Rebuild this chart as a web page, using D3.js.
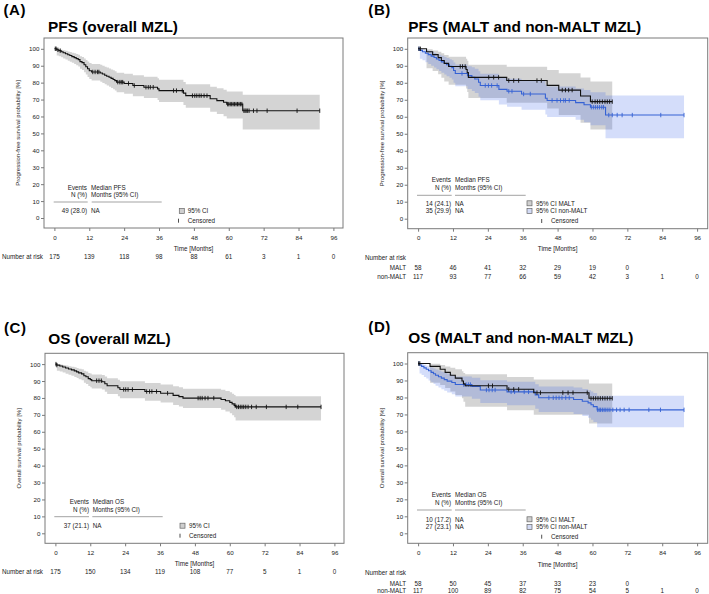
<!DOCTYPE html>
<html><head><meta charset="utf-8">
<script src="https://cdn.jsdelivr.net/npm/d3@7"></script>
<style>
body{margin:0;background:#fff}
svg text{font-family:"Liberation Sans",Arial,Helvetica,sans-serif;fill:#222}
</style>
</head><body>
<svg id="chart" width="709" height="594"></svg>
<script>
// ---------- tick labels ----------
const xTicks = [0, 12, 24, 36, 48, 60, 72, 84, 96];
const yTicks = [0, 10, 20, 30, 40, 50, 60, 70, 80, 90, 100];

// ---------- Panel A: PFS overall ----------
const pfsAllTime = [0, 0.8, 1.5, 2.3, 3.0, 3.8, 4.6, 5.3, 6.0, 6.8, 7.5, 8.2, 8.8, 9.5, 10.2, 10.8, 11.4, 12.0, 12.8, 15.8, 16.5, 17.3, 18.0, 18.8, 19.5, 20.2, 20.8, 21.4, 24.0, 27.0, 30.8, 35.5, 36.0, 44.4, 45.2, 53.6, 55.9, 58.2, 59.3, 64.8];
const pfsAllSurv = [100, 99.4, 98.9, 98.3, 97.7, 97.1, 96.5, 96.0, 95.4, 94.8, 94.2, 93.6, 92.4, 91.8, 90.6, 89.4, 88.2, 87.0, 86.3, 85.7, 85.1, 84.4, 83.8, 83.2, 82.5, 81.9, 81.2, 80.3, 79.5, 78.3, 77.3, 76.3, 75.3, 73.8, 72.3, 70.5, 69.4, 68.4, 67.3, 63.4];
const pfsAllLow = [100, 96.0, 95.6, 95.0, 94.3, 93.7, 93.0, 92.4, 91.7, 91.0, 90.3, 89.6, 88.2, 87.5, 86.1, 84.8, 83.4, 82.1, 81.3, 80.5, 79.8, 79.0, 78.3, 77.6, 76.8, 76.1, 75.4, 74.3, 73.4, 72.0, 70.9, 69.7, 68.6, 66.8, 65.1, 62.8, 61.4, 60.2, 58.8, 52.3];
const pfsAllHigh = [100, 99.9, 99.7, 99.4, 99.1, 98.8, 98.4, 98.1, 97.7, 97.3, 96.9, 96.5, 95.6, 95.2, 94.3, 93.4, 92.5, 91.6, 91.0, 90.5, 90.0, 89.4, 88.9, 88.4, 87.8, 87.3, 86.7, 85.9, 85.3, 84.3, 83.5, 82.6, 81.7, 80.4, 79.1, 77.6, 76.7, 75.8, 74.8, 72.8];
const pfsAllEnd = 91.3;
const pfsAllCens = [0.3, 0.6, 1.2, 2.0, 13.2, 14.0, 14.8, 15.3, 21.8, 22.5, 23.0, 23.5, 25.5, 27.5, 31.5, 32.3, 33.0, 34.0, 41.0, 42.0, 44.0, 47.5, 48.3, 49.0, 49.8, 50.5, 51.5, 52.5, 59.6, 60.0, 60.5, 61.0, 61.5, 62.0, 62.5, 63.0, 63.5, 64.0, 64.5, 65.2, 65.6, 66.0, 66.5, 67.0, 68.5, 69.7, 73.2, 83.5, 91.3];
const riskPfsAll = [175, 139, 118, 98, 88, 61, 3, 1, 0];

// ---------- Panel B: PFS MALT / non-MALT ----------
const pfsMaltTime = [0, 2.9, 5.0, 6.9, 8.0, 9.0, 10.5, 16.5, 16.9, 17.3, 30.5, 44.4, 48.4, 55.9, 59.3];
const pfsMaltSurv = [100, 98.3, 96.6, 94.8, 93.1, 91.4, 89.6, 87.8, 86.0, 83.2, 81.3, 78.5, 75.7, 72.2, 68.9];
const pfsMaltLow = [100, 88.5, 87.0, 85.0, 83.0, 80.8, 78.8, 76.6, 74.6, 71.0, 68.3, 64.8, 61.0, 56.5, 52.5];
const pfsMaltHigh = [100, 99.8, 99.0, 98.2, 97.4, 96.4, 95.3, 94.1, 92.9, 90.6, 89.4, 87.5, 85.6, 83.1, 80.8];
const pfsMaltEnd = 66.8;
const pfsMaltCens = [0.3, 0.8, 14.5, 15.3, 16.2, 24.3, 26.0, 27.7, 31.2, 32.9, 34.6, 40.9, 42.4, 49.6, 50.7, 51.8, 53.0, 59.9, 60.9, 61.7, 62.5, 63.4, 64.3, 65.1, 65.9, 66.8];
const pfsNonTime = [0, 0.6, 1.5, 2.5, 3.5, 4.5, 5.5, 6.3, 7.2, 8.0, 9.0, 9.8, 10.8, 11.6, 12.2, 12.8, 17.0, 18.5, 19.5, 20.8, 21.4, 27.8, 30.6, 35.6, 43.8, 44.4, 54.2, 57.1, 59.3, 64.5];
const pfsNonSurv = [100, 99.1, 98.3, 97.4, 96.6, 95.7, 94.9, 94.0, 93.1, 92.3, 91.4, 90.6, 89.7, 88.9, 87.2, 85.5, 84.2, 83.2, 82.2, 80.3, 78.4, 76.1, 75.0, 73.4, 70.9, 69.6, 68.3, 67.1, 65.6, 61.0];
const pfsNonLow = [100, 94.1, 93.2, 92.1, 91.1, 90.0, 89.0, 88.0, 86.9, 85.9, 84.9, 83.9, 82.9, 81.9, 80.0, 78.0, 76.4, 75.2, 74.0, 71.8, 69.7, 67.2, 65.9, 64.1, 61.3, 59.8, 58.2, 56.8, 55.0, 47.3];
const pfsNonHigh = [100, 99.9, 99.6, 99.2, 98.7, 98.2, 97.6, 97.0, 96.5, 95.9, 95.2, 94.6, 93.9, 93.3, 92.0, 90.8, 89.8, 89.1, 88.3, 86.8, 85.3, 83.3, 82.4, 81.0, 78.9, 77.8, 76.7, 75.7, 74.4, 72.5];
const pfsNonEnd = 91.5;
const pfsNonCens = [0.3, 15.1, 23.1, 24.2, 25.3, 27.2, 31.2, 32.3, 36.3, 38.6, 46.1, 47.8, 49.0, 50.1, 50.7, 52.0, 59.6, 60.3, 61.0, 61.7, 62.4, 63.2, 63.8, 65.6, 66.8, 68.5, 70.2, 73.7, 83.5, 91.5];
const riskPfsMalt = [58, 46, 41, 32, 29, 19, 0];
const riskPfsNon = [117, 93, 77, 66, 59, 42, 3, 1, 0];

// ---------- Panel C: OS overall ----------
const osAllTime = [0, 0.5, 1.5, 2.5, 3.5, 4.5, 5.5, 6.5, 7.3, 8.0, 9.0, 9.8, 10.5, 11.3, 12.0, 12.5, 16.0, 17.0, 17.8, 21.5, 22.2, 30.8, 36.2, 40.5, 42.5, 43.9, 57.0, 58.5, 60.0, 60.8, 61.5, 62.0];
const osAllSurv = [100, 99.4, 98.9, 98.3, 97.7, 97.1, 96.6, 96.0, 95.4, 94.8, 94.2, 93.1, 92.5, 91.4, 90.8, 90.2, 89.6, 88.4, 87.2, 86.0, 85.0, 83.8, 82.8, 81.5, 80.8, 79.9, 79.1, 78.3, 77.4, 76.5, 75.6, 74.7];
const osAllLow = [100, 96.0, 95.6, 95.0, 94.3, 93.7, 93.1, 92.4, 91.8, 91.1, 90.4, 89.0, 88.3, 87.0, 86.3, 85.6, 85.0, 83.6, 82.3, 81.0, 79.8, 78.4, 77.3, 75.8, 75.0, 74.0, 73.0, 72.0, 70.9, 69.8, 68.6, 66.6];
const osAllHigh = [100, 99.9, 99.7, 99.4, 99.1, 98.8, 98.5, 98.1, 97.7, 97.3, 96.9, 96.1, 95.6, 94.8, 94.4, 93.9, 93.5, 92.6, 91.6, 90.7, 89.9, 88.9, 88.0, 86.9, 86.3, 85.5, 84.8, 84.1, 83.3, 82.5, 81.8, 81.0];
const osAllEnd = 91.4;
const osAllCens = [0.2, 0.5, 14.2, 15.0, 15.8, 23.5, 24.2, 25.0, 26.5, 31.4, 32.4, 33.2, 34.8, 38.6, 49.1, 49.8, 50.5, 51.5, 52.5, 54.5, 61.8, 62.4, 63.0, 63.6, 64.2, 64.8, 65.5, 66.3, 67.5, 69.1, 72.6, 79.4, 83.4, 91.4];
const riskOsAll = [175, 150, 134, 119, 108, 77, 5, 1, 0];

// ---------- Panel D: OS MALT / non-MALT ----------
const osMaltTime = [0, 4.1, 7.6, 9.3, 11.1, 12.8, 15.1, 15.6, 16.2, 30.6, 39.8, 58.8];
const osMaltSurv = [100, 98.3, 96.6, 94.8, 93.1, 91.4, 89.7, 88.0, 86.9, 84.8, 82.8, 79.5];
const osMaltLow = [100, 88.7, 87.3, 85.5, 83.5, 81.5, 79.5, 77.5, 74.5, 72.5, 69.8, 64.7];
const osMaltHigh = [100, 99.8, 99.1, 98.3, 97.5, 96.6, 95.5, 94.4, 93.7, 92.1, 90.6, 88.2];
const osMaltEnd = 66.8;
const osMaltCens = [0.2, 0.6, 24.2, 25.6, 31.2, 32.9, 34.6, 40.9, 42.1, 49.8, 51.6, 53.3, 58.2, 59.5, 60.3, 61.1, 61.9, 62.7, 63.5, 64.3, 65.1, 66.0, 66.8];
const osNonTime = [0, 0.5, 1.2, 2.0, 2.8, 3.6, 4.5, 5.3, 6.0, 7.0, 8.0, 9.0, 10.0, 11.6, 12.8, 18.5, 21.4, 30.6, 40.3, 41.5, 53.5, 56.5, 58.5, 59.5, 60.3, 61.6];
const osNonSurv = [100, 99.1, 98.3, 97.4, 96.6, 95.7, 94.8, 94.0, 93.1, 92.2, 91.4, 90.5, 89.6, 88.8, 87.6, 86.5, 84.4, 83.3, 81.5, 79.8, 78.8, 77.8, 76.8, 75.7, 74.6, 72.7];
const osNonLow = [100, 94.1, 93.2, 92.1, 91.1, 90.0, 89.0, 88.0, 86.9, 85.9, 84.9, 83.9, 82.9, 81.9, 80.5, 79.2, 76.7, 75.4, 73.4, 71.5, 70.3, 69.1, 68.0, 66.8, 65.5, 62.5];
const osNonHigh = [100, 99.9, 99.6, 99.2, 98.7, 98.2, 97.6, 97.0, 96.5, 95.9, 95.2, 94.6, 93.9, 93.3, 92.4, 91.6, 90.1, 89.2, 87.8, 86.5, 85.8, 85.0, 84.3, 83.5, 82.7, 81.0];
const osNonEnd = 91.5;
const osNonCens = [0.3, 15.7, 16.5, 17.3, 18.0, 23.5, 24.4, 25.5, 26.5, 32.0, 33.2, 36.5, 38.0, 45.0, 46.5, 47.5, 48.5, 49.5, 50.8, 52.0, 61.8, 62.3, 62.8, 63.4, 64.0, 64.6, 65.3, 66.0, 67.0, 68.3, 69.5, 70.9, 72.6, 79.4, 83.4, 91.5];
const riskOsMalt = [58, 50, 45, 37, 33, 23, 0];
const riskOsNon = [117, 100, 89, 82, 75, 54, 5, 1, 0];

// ---------- styles ----------
const GRAY_BAND = "rgba(0,0,0,0.17)";
const BLUE_BAND = "rgba(60,100,230,0.22)";
const BLACK = "#111";
const BLUE = "#3562d4";
const FS = 6.3;

const svg = d3.select("#chart");

function survAt(times, surv, t) {
  let i = d3.bisectRight(times, t) - 1;
  return surv[Math.max(0, i)];
}

function drawPanel(p) {
  const g = svg.append("g");
  const x = d3.scaleLinear().domain([0, 96]).range([p.left + 10.4, p.left + 289.4]);
  const y = d3.scaleLinear().domain([0, 100]).range([p.bottom - 10, p.top + 10.8]);

  // label & title
  g.append("text").attr("x", p.labelX).attr("y", p.labelY).text(p.label)
    .style("font-size", "15px").style("font-weight", "bold").style("letter-spacing", "0.6px").style("fill", "#000");
  g.append("text").attr("x", p.titleX).attr("y", p.titleY).text(p.title)
    .style("font-size", "15.4px").style("font-weight", "bold").style("fill", "#000");

  // bands
  p.curves.forEach(c => {
    const pts = c.time.map((t, i) => ({t, lo: c.low[i], hi: c.high[i]}));
    pts.push({t: c.end, lo: c.low[c.low.length - 1], hi: c.high[c.high.length - 1]});
    const area = d3.area().curve(d3.curveStepAfter)
      .x(d => x(d.t)).y0(d => y(d.lo)).y1(d => y(d.hi));
    g.append("path").attr("d", area(pts)).attr("fill", c.band).attr("stroke", "none");
  });
  // lines + censor marks
  p.curves.slice().reverse().forEach(c => {
    const pts = c.time.map((t, i) => ({t, s: c.surv[i]}));
    pts.push({t: c.end, s: c.surv[c.surv.length - 1]});
    const line = d3.line().curve(d3.curveStepAfter).x(d => x(d.t)).y(d => y(d.s));
    g.append("path").attr("d", line(pts)).attr("fill", "none").attr("stroke", c.color).attr("stroke-width", 1.1);
    g.selectAll(null).data(c.cens).enter().append("line")
      .attr("x1", d => x(d)).attr("x2", d => x(d))
      .attr("y1", d => y(survAt(c.time, c.surv, d)) - 2.2)
      .attr("y2", d => y(survAt(c.time, c.surv, d)) + 2.2)
      .attr("stroke", c.color).attr("stroke-width", 0.9);
  });

  // frame
  g.append("rect").attr("x", p.left).attr("y", p.top)
    .attr("width", p.right - p.left).attr("height", p.bottom - p.top)
    .attr("fill", "none").attr("stroke", "#7a7a7a").attr("stroke-width", 1);

  // axes
  const ya = g.append("g").attr("transform", `translate(${p.left},0)`)
    .call(d3.axisLeft(y).tickValues(yTicks).tickSize(3).tickPadding(1.6));
  const xa = g.append("g").attr("transform", `translate(0,${p.bottom})`)
    .call(d3.axisBottom(x).tickValues(xTicks).tickSize(3).tickPadding(4.3));
  [ya, xa].forEach(a => {
    a.select(".domain").remove();
    a.selectAll(".tick line").attr("stroke", "#7a7a7a");
    a.selectAll(".tick text").style("font-size", "6.2px").style("font-family", "Liberation Sans, Arial, sans-serif").attr("fill", "#222");
  });

  // y label
  g.append("text").attr("transform", `translate(${p.left - 24},${(p.top + p.bottom) / 2}) rotate(-90)`)
    .attr("text-anchor", "middle").text(p.yLabel).style("font-size", "6px");
  // x label
  g.append("text").attr("x", (p.left + p.right) / 2).attr("y", p.timeY).attr("dy", "0.35em")
    .attr("text-anchor", "middle").text("Time [Months]").style("font-size", FS + "px");

  // number at risk
  g.append("text").attr("x", p.riskLabelX).attr("y", p.riskLabelY).attr("dy", "0.35em")
    .text("Number at risk").style("font-size", FS + "px");
  p.risk.forEach(r => {
    if (r.name) {
      g.append("text").attr("x", p.left - 1.5).attr("y", r.y).attr("dy", "0.35em")
        .attr("text-anchor", "end").text(r.name).style("font-size", FS + "px");
    }
    g.selectAll(null).data(r.vals).enter().append("text")
      .attr("x", (d, i) => x(xTicks[i])).attr("y", r.y).attr("dy", "0.35em")
      .attr("text-anchor", "middle").text(d => d).style("font-size", FS + "px");
  });

  // events table
  const T = p.table;
  g.append("text").attr("x", T.evR).attr("y", T.h1).attr("dy", "0.35em").attr("text-anchor", "end").text("Events").style("font-size", FS + "px");
  g.append("text").attr("x", T.evR).attr("y", T.h2).attr("dy", "0.35em").attr("text-anchor", "end").text("N (%)").style("font-size", FS + "px");
  g.append("text").attr("x", T.medL).attr("y", T.h1).attr("dy", "0.35em").text(p.medHeader).style("font-size", FS + "px");
  g.append("text").attr("x", T.medL).attr("y", T.h2).attr("dy", "0.35em").text("Months (95% CI)").style("font-size", FS + "px");
  g.append("line").attr("x1", T.l1[0]).attr("x2", T.l1[1]).attr("y1", T.ly).attr("y2", T.ly).attr("stroke", "#999").attr("stroke-width", 0.9);
  g.append("line").attr("x1", T.l2[0]).attr("x2", T.l2[1]).attr("y1", T.ly).attr("y2", T.ly).attr("stroke", "#999").attr("stroke-width", 0.9);
  p.events.forEach((e, i) => {
    g.append("text").attr("x", T.evR).attr("y", T.rows[i]).attr("dy", "0.35em").attr("text-anchor", "end").text(e).style("font-size", FS + "px");
    g.append("text").attr("x", T.medL).attr("y", T.rows[i]).attr("dy", "0.35em").text("NA").style("font-size", FS + "px");
  });
  // legend
  p.legend.forEach((l, i) => {
    g.append("rect").attr("x", T.swX).attr("y", T.rows[i] - 2.5).attr("width", 5).attr("height", 5)
      .attr("fill", l.fill).attr("stroke", "#666").attr("stroke-width", 0.7);
    g.append("text").attr("x", T.lgX).attr("y", T.rows[i]).attr("dy", "0.35em").text(l.text).style("font-size", FS + "px");
  });
  g.append("line").attr("x1", T.cmX).attr("x2", T.cmX).attr("y1", T.cy - 2).attr("y2", T.cy + 2)
    .attr("stroke", "#222").attr("stroke-width", 0.8);
  g.append("text").attr("x", T.ctX).attr("y", T.cy).attr("dy", "0.35em").text("Censored").style("font-size", FS + "px");
}

const LEG_GRAY = "#cfcfcf";
const LEG_BLUE = "#d3dbf6";

drawPanel({
  label: "(A)", labelX: 3.5, labelY: 15.3, title: "PFS (overall MZL)", titleX: 48, titleY: 31.7,
  left: 44, top: 38, right: 343, bottom: 228,
  yLabel: "Progression-free survival probability [%]", timeY: 249, riskLabelX: 2, riskLabelY: 257,
  curves: [{time: pfsAllTime, surv: pfsAllSurv, low: pfsAllLow, high: pfsAllHigh, end: pfsAllEnd, cens: pfsAllCens, color: BLACK, band: GRAY_BAND}],
  risk: [{name: null, y: 257, vals: riskPfsAll}],
  medHeader: "Median PFS", events: ["49 (28.0)"],
  legend: [{fill: LEG_GRAY, text: "95% CI"}],
  table: {evR: 87, medL: 91, h1: 187.7, h2: 194.3, ly: 202, l1: [53.7, 87.7], l2: [91.7, 161.7], rows: [211], swX: 179.3, lgX: 187.7, cmX: 178.5, ctX: 187.7, cy: 220.7}
});

drawPanel({
  label: "(B)", labelX: 368.3, labelY: 15.0, title: "PFS (MALT and non-MALT MZL)", titleX: 408.3, titleY: 31.7,
  left: 407.7, top: 38, right: 707.7, bottom: 228.7,
  yLabel: "Progression-free survival probability [%]", timeY: 249, riskLabelX: 365, riskLabelY: 257.7,
  curves: [
    {time: pfsMaltTime, surv: pfsMaltSurv, low: pfsMaltLow, high: pfsMaltHigh, end: pfsMaltEnd, cens: pfsMaltCens, color: BLACK, band: GRAY_BAND},
    {time: pfsNonTime, surv: pfsNonSurv, low: pfsNonLow, high: pfsNonHigh, end: pfsNonEnd, cens: pfsNonCens, color: BLUE, band: BLUE_BAND}
  ],
  risk: [{name: "MALT", y: 268, vals: riskPfsMalt}, {name: "non-MALT", y: 276.7, vals: riskPfsNon}],
  medHeader: "Median PFS", events: ["14 (24.1)", "35 (29.9)"],
  legend: [{fill: LEG_GRAY, text: "95% CI MALT"}, {fill: LEG_BLUE, text: "95% CI non-MALT"}],
  table: {evR: 451, medL: 455, h1: 180, h2: 187.7, ly: 195.3, l1: [417, 451.7], l2: [455, 525.7], rows: [203.3, 211], swX: 527, lgX: 536, cmX: 541.7, ctX: 551, cy: 221}
});

drawPanel({
  label: "(C)", labelX: 4, labelY: 332.7, title: "OS (overall MZL)", titleX: 48.3, titleY: 344,
  left: 45, top: 353.3, right: 344, bottom: 543.3,
  yLabel: "Overall survival probability [%]", timeY: 563.3, riskLabelX: 2, riskLabelY: 571.7,
  curves: [{time: osAllTime, surv: osAllSurv, low: osAllLow, high: osAllHigh, end: osAllEnd, cens: osAllCens, color: BLACK, band: GRAY_BAND}],
  risk: [{name: null, y: 571.7, vals: riskOsAll}],
  medHeader: "Median OS", events: ["37 (21.1)"],
  legend: [{fill: LEG_GRAY, text: "95% CI"}],
  table: {evR: 89, medL: 92.7, h1: 501.7, h2: 510, ly: 516.7, l1: [54.3, 89], l2: [92.3, 162.7], rows: [525.7], swX: 180, lgX: 189, cmX: 180, ctX: 189, cy: 535.7}
});

drawPanel({
  label: "(D)", labelX: 368.3, labelY: 331.5, title: "OS (MALT and non-MALT MZL)", titleX: 408.3, titleY: 343.3,
  left: 407.7, top: 352.7, right: 707.7, bottom: 543.3,
  yLabel: "Overall survival probability [%]", timeY: 565, riskLabelX: 365, riskLabelY: 572.7,
  curves: [
    {time: osMaltTime, surv: osMaltSurv, low: osMaltLow, high: osMaltHigh, end: osMaltEnd, cens: osMaltCens, color: BLACK, band: GRAY_BAND},
    {time: osNonTime, surv: osNonSurv, low: osNonLow, high: osNonHigh, end: osNonEnd, cens: osNonCens, color: BLUE, band: BLUE_BAND}
  ],
  risk: [{name: "MALT", y: 583.3, vals: riskOsMalt}, {name: "non-MALT", y: 591, vals: riskOsNon}],
  medHeader: "Median OS", events: ["10 (17.2)", "27 (23.1)"],
  legend: [{fill: LEG_GRAY, text: "95% CI MALT"}, {fill: LEG_BLUE, text: "95% CI non-MALT"}],
  table: {evR: 451, medL: 455, h1: 494.3, h2: 502.3, ly: 510, l1: [417, 451.7], l2: [455, 525.7], rows: [519.3, 527], swX: 527, lgX: 536, cmX: 541.7, ctX: 551, cy: 536.7}
});
</script>
</body></html>
